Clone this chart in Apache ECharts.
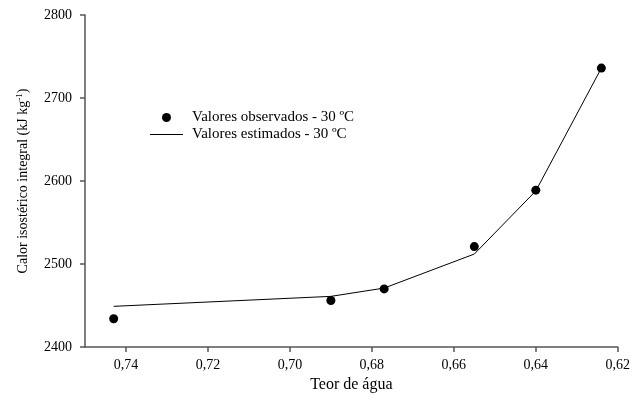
<!DOCTYPE html>
<html>
<head>
<meta charset="utf-8">
<script src="https://cdn.jsdelivr.net/npm/echarts@6/dist/echarts.min.js"></script>
<style>
html,body{margin:0;padding:0;background:#fff;}
#chart{width:633px;height:401px;}
</style>
</head>
<body>
<div id="chart"></div>
<script>
var waterContent = [0.743, 0.690, 0.677, 0.655, 0.640, 0.624];
var observedHeat = [2434, 2456, 2470, 2521, 2589, 2736];
var estimatedHeat = [2449, 2461, 2471, 2512, 2588, 2736];
var seriesNames = ['Valores observados - 30 ºC', 'Valores estimados - 30 ºC'];
var xAxisTitle = 'Teor de água';

var FONT = '"Liberation Serif", "DejaVu Serif", serif';
var axisColor = '#555';

function pairs(xs, ys) { return xs.map(function (x, i) { return [x, ys[i]]; }); }

var lineIcon = 'path://M0,0 L0.01,0 L0.01,0.01 L0,0.01 Z M0,4 L33,4 L33,5 L0,5 Z M32.99,8.99 L33,8.99 L33,9 L32.99,9 Z';

var chart = echarts.init(document.getElementById('chart'), null, {renderer: 'canvas'});
chart.setOption({
  animation: false,
  backgroundColor: '#fff',
  grid: {left: 85, right: 14, top: 15, bottom: 54, containLabel: false},
  legend: {
    orient: 'vertical',
    left: 150,
    top: 110,
    padding: 0,
    itemWidth: 33,
    itemHeight: 9,
    itemGap: 2,
    textStyle: {fontFamily: FONT, fontSize: 15, color: '#000', padding: [0, 0, 0, 4]},
    data: [
      {name: seriesNames[0], icon: 'circle', itemStyle: {color: '#000', opacity: 1}},
      {name: seriesNames[1], icon: lineIcon, itemStyle: {color: '#000', borderWidth: 0}}
    ]
  },
  xAxis: {
    type: 'value',
    inverse: true,
    min: 0.62,
    max: 0.75,
    interval: 0.02,
    name: xAxisTitle,
    nameLocation: 'middle',
    nameGap: 27,
    nameTextStyle: {fontFamily: FONT, fontSize: 16, color: '#000'},
    axisLine: {lineStyle: {color: axisColor, width: 1.5}},
    axisTick: {show: true, length: 5, lineStyle: {color: axisColor, width: 1.5}},
    axisLabel: {
      fontFamily: FONT, fontSize: 14, color: '#000', margin: 11,
      showMaxLabel: false,
      formatter: function (v) { return v.toFixed(2).replace('.', ','); }
    },
    splitLine: {show: false}
  },
  yAxis: {
    type: 'value',
    min: 2400,
    max: 2800,
    interval: 100,
    name: '{t|Calor isostérico integral (kJ kg}{s|-1}{t|)}',
    nameLocation: 'middle',
    nameGap: 54,
    nameTextStyle: {
      fontFamily: FONT, fontSize: 14, color: '#000',
      rich: {
        t: {fontFamily: FONT, fontSize: 14, color: '#000'},
        s: {fontFamily: FONT, fontSize: 9, color: '#000', verticalAlign: 'top', padding: [0, 0, 7, 0]}
      }
    },
    axisLine: {show: true, lineStyle: {color: axisColor, width: 1.5}},
    axisTick: {show: true, length: 5, lineStyle: {color: axisColor, width: 1.5}},
    axisLabel: {
      fontFamily: FONT, fontSize: 14, color: '#000', margin: 13,
      formatter: function (v) { return String(v); }
    },
    splitLine: {show: false}
  },
  series: [
    {
      name: seriesNames[0],
      type: 'scatter',
      symbol: 'circle',
      symbolSize: 9,
      itemStyle: {color: '#000', opacity: 1},
      data: pairs(waterContent, observedHeat),
      z: 3
    },
    {
      name: seriesNames[1],
      type: 'line',
      symbol: 'none',
      lineStyle: {color: '#000', width: 1},
      itemStyle: {color: '#000'},
      data: pairs(waterContent, estimatedHeat),
      z: 2
    }
  ]
});
</script>
</body>
</html>
